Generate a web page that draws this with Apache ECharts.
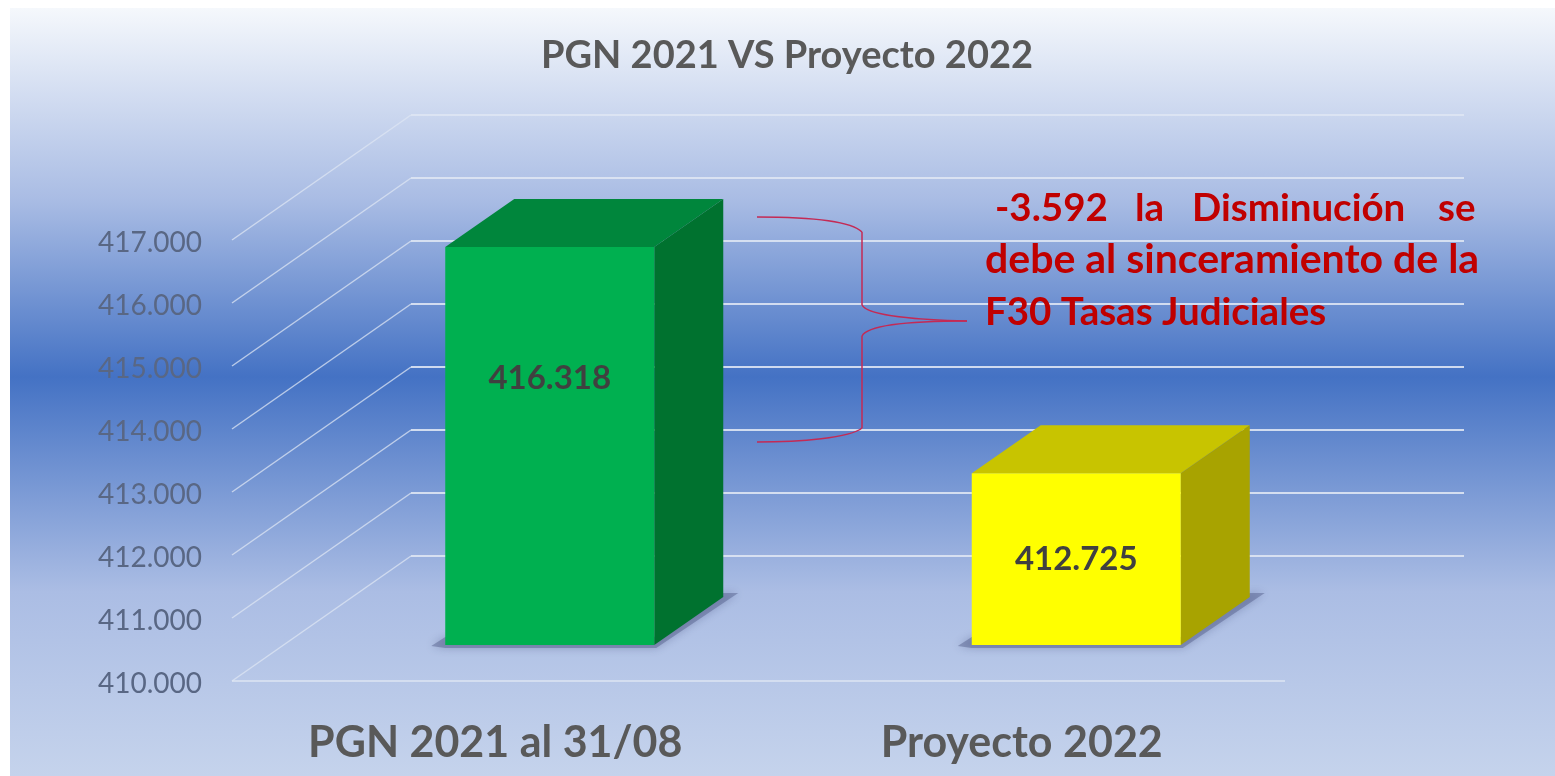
<!DOCTYPE html>
<html>
<head>
<meta charset="utf-8">
<style>
  html, body { margin: 0; padding: 0; background: #fff; }
  #chart { width: 1555px; height: 776px; }
</style>
<script src="https://cdn.jsdelivr.net/npm/echarts@6/dist/echarts.min.js"></script>
</head>
<body>
<div id="chart"></div>
<script>
const titleText = 'PGN 2021 VS Proyecto 2022';
const categories = ['PGN 2021 al 31/08', 'Proyecto 2022'];
const values = [416318, 412725];
const valueLabels = ['416.318', '412.725'];
const tickValues = [410000, 411000, 412000, 413000, 414000, 415000, 416000, 417000];
const noteWords = ['-3.592', 'la', 'Disminución', 'se'];
const noteLine2 = 'debe al sinceramiento de la';
const noteLine3 = 'F30 Tasas Judiciales';

// faces of the 3D bars
const frontColors = ['#00b050', '#ffff00'];
const topColors = ['#00863c', '#c8c400'];
const sideColors = ['#00722f', '#a8a300'];

// fake 3D: wall depth and where the bar sits in it
const WALL_DX = 179, WALL_DY = -125;
const BAR_DX = 54.5, BAR_DY = -36;
const BAR_W = 209, DEPTH_X = 69, DEPTH_Y = -48;
const labelShift = [-68, 0]; // first label was moved by hand in the original

const FONT = 'Lato, Carlito, Calibri, sans-serif';

const poly = (points, fill, extra) => ({
  type: 'polygon',
  shape: { points },
  style: Object.assign({ fill }, extra)
});

function renderWallLine(params, api) {
  const grid = params.coordSys;
  const y = api.coord([0, api.value(1)])[1];
  const x0 = grid.x, x1 = grid.x + grid.width;
  const bx = x0 + WALL_DX, by = y + WALL_DY;
  const children = [
    {
      type: 'line',
      shape: { x1: x0, y1: y, x2: bx, y2: by },
      style: { stroke: 'rgba(222,229,243,0.75)', lineWidth: 1.5 }
    },
    {
      type: 'line',
      shape: { x1: bx, y1: by, x2: x1 + WALL_DX, y2: by },
      style: { stroke: 'rgba(222,229,243,0.9)', lineWidth: 2 }
    }
  ];
  // only the floor has a front edge
  if (params.dataIndex === 0) {
    children.push({
      type: 'line',
      shape: { x1: x0, y1: y, x2: x1, y2: y },
      style: { stroke: 'rgba(222,229,243,0.75)', lineWidth: 2 }
    });
  }
  return { type: 'group', children };
}

function renderBar(params, api) {
  const i = params.dataIndex;
  const top = api.coord([i, api.value(1)]);
  const base = api.coord([i, tickValues[0]]);
  const xl = top[0] + BAR_DX - BAR_W / 2;
  const xr = xl + BAR_W;
  const yt = top[1] + BAR_DY;
  const yb = base[1] + BAR_DY;
  const bx = xr + DEPTH_X;
  return {
    type: 'group',
    children: [
      poly([[xl - 14, yb + 1], [xl, yb - 8], [xr, yb - 8], [bx, yb + DEPTH_Y - 4], [bx + 15, yb + DEPTH_Y - 4], [xr + 2, yb + 3], [xl, yb + 3]],
        'rgba(70,80,125,0.4)', { shadowBlur: 10, shadowColor: 'rgba(60,70,115,0.8)' }),
      poly([[xl, yt], [xl + DEPTH_X, yt + DEPTH_Y], [bx, yt + DEPTH_Y], [xr, yt]], topColors[i]),
      poly([[xr, yt], [bx, yt + DEPTH_Y], [bx, yb + DEPTH_Y], [xr, yb]], sideColors[i]),
      {
        type: 'rect',
        shape: { x: xl, y: yt, width: BAR_W, height: yb - yt },
        style: { fill: frontColors[i] }
      },
      {
        type: 'text',
        style: {
          x: xl + BAR_W / 2,
          y: (yt + yb) / 2 + labelShift[i],
          text: valueLabels[i],
          align: 'center',
          verticalAlign: 'middle',
          fill: '#404040',
          font: 'bold 33px ' + FONT
        }
      }
    ]
  };
}

const noteText = (text, x, y, size) => ({
  type: 'text', x, y, z: 10,
  style: { text, fill: '#c00000', font: 'bold ' + size + 'px ' + FONT, verticalAlign: 'bottom' }
});
const noteWordX = [995, 1135, 1192, 1438];

// the curly brace between the two bars
const braceStyle = { fill: null, stroke: '#c42a55', lineWidth: 1.5 };
const braceCurve = (x1, y1, cpx1, cpy1, cpx2, cpy2, x2, y2) => ({
  type: 'bezierCurve', z: 9, style: braceStyle, shape: { x1, y1, cpx1, cpy1, cpx2, cpy2, x2, y2 }
});
const braceLine = (x1, y1, x2, y2) => ({ type: 'line', z: 9, style: braceStyle, shape: { x1, y1, x2, y2 } });

const chart = echarts.init(document.getElementById('chart'));
chart.setOption({
  animation: false,
  backgroundColor: '#ffffff',
  title: {
    text: titleText,
    left: 782,
    top: 32,
    textAlign: 'center',
    textStyle: { color: '#595959', fontFamily: FONT, fontWeight: 'bold', fontSize: 38 }
  },
  grid: { left: 232, right: 270, top: 240, bottom: 95 },
  xAxis: {
    type: 'category',
    data: categories,
    axisLine: { show: false },
    axisTick: { show: false },
    axisLabel: { color: '#595959', fontFamily: FONT, fontWeight: 'bold', fontSize: 43, margin: 41 }
  },
  yAxis: {
    type: 'value',
    min: 410000,
    max: 417000,
    interval: 1000,
    axisLine: { show: false },
    axisTick: { show: false },
    splitLine: { show: false },
    axisLabel: {
      margin: 30,
      formatter: v => '{t|' + String(v).replace(/(\d{3})$/, '.$1') + '}',
      rich: {
        t: { color: '#596784', fontFamily: FONT, fontSize: 28, padding: [5, 0, 0, 0] }
      }
    }
  },
  series: [
    {
      type: 'custom',
      z: 1,
      renderItem: renderWallLine,
      data: tickValues.map(v => [0, v]),
      silent: true
    },
    {
      type: 'custom',
      z: 2,
      renderItem: renderBar,
      data: values.map((v, i) => [i, v]),
      silent: true
    }
  ],
  graphic: [
    {
      type: 'rect',
      z: -10,
      shape: { x: 10, y: 8, width: 1545, height: 768 },
      style: {
        fill: new echarts.graphic.LinearGradient(0, 0, 0, 1, [
          { offset: 0, color: '#f5f8fc' },
          { offset: 0.25, color: '#a9bce4' },
          { offset: 0.48, color: '#4472c4' },
          { offset: 0.76, color: '#abbde4' },
          { offset: 1, color: '#c5d3ec' }
        ])
      }
    },
    braceCurve(757, 217, 800, 217, 850, 220, 862, 232),
    braceLine(862, 232, 862, 305),
    braceCurve(862, 305, 868, 316, 920, 320, 967, 321),
    braceCurve(967, 321, 920, 321, 868, 324, 862, 336),
    braceLine(862, 336, 862, 428),
    braceCurve(862, 428, 850, 438, 800, 442, 757, 442),
    ...noteWords.map((w, i) => noteText(w, noteWordX[i], 228, 38.5)),
    noteText(noteLine2, 985, 280, 41),
    noteText(noteLine3, 985, 332, 38.5)
  ]
});
</script>
</body>
</html>
